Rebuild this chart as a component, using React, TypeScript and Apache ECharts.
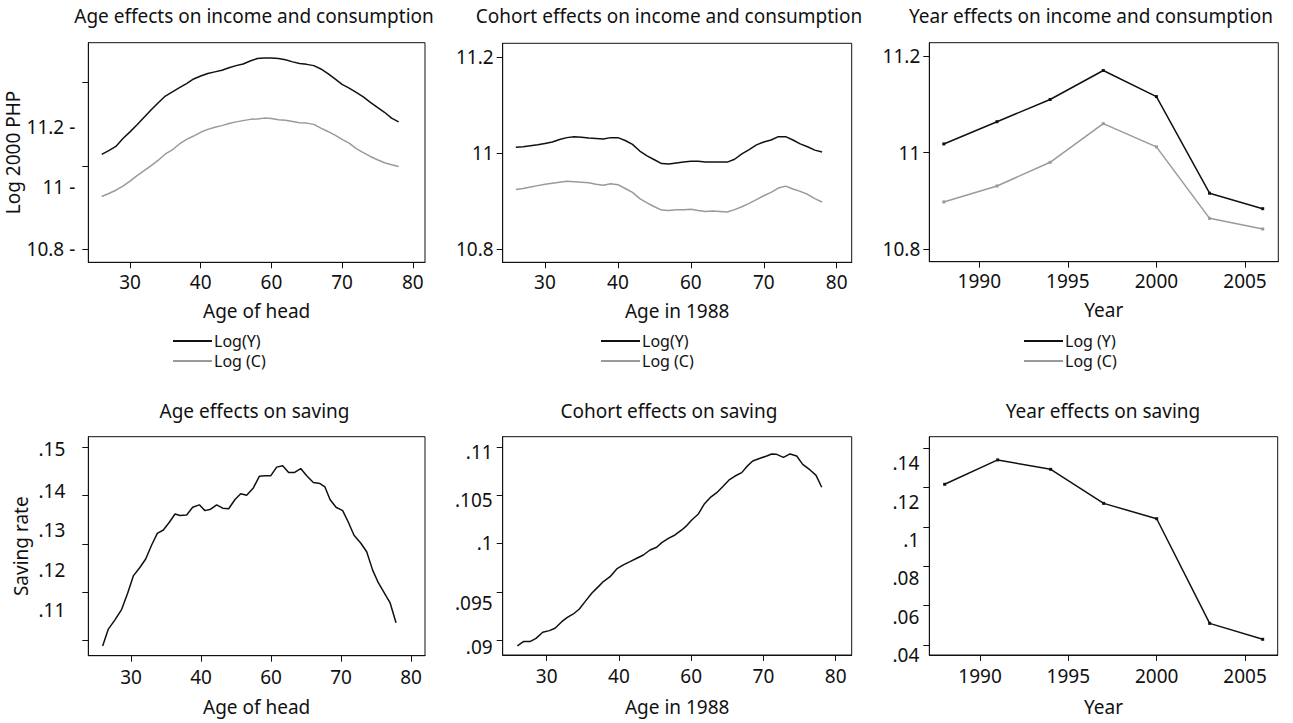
import React, { useEffect, useRef } from 'react';
import * as echarts from 'echarts';

const FONT = '"Noto Sans", sans-serif';
const INK = '#111';
const GREY = '#9a9a9a';

// ---------- data ----------
const ageAxisTicks = [30, 40, 50, 60, 70];
const ageAxisLabels = ['30', '40', '60', '70', '80'];
const yearAxisTicks = [1990, 1995, 2000, 2005];
const yearAxisLabels = ['1990', '1995', '2000', '2005'];

const ageIncomeX = [26, 27, 28, 29, 30, 31, 32, 33, 34, 35, 36, 37, 38, 39, 40, 41, 42, 43, 44, 45, 46, 47, 48, 49, 50, 51, 52, 53, 54, 55, 56, 57, 58, 59, 60, 61, 62, 63, 64, 65, 66, 67, 68];
const ageLogY = [11.228, 11.237, 11.247, 11.266, 11.282, 11.299, 11.317, 11.335, 11.352, 11.368, 11.378, 11.388, 11.398, 11.409, 11.416, 11.422, 11.426, 11.43, 11.436, 11.441, 11.445, 11.452, 11.458, 11.459, 11.459, 11.458, 11.455, 11.45, 11.446, 11.444, 11.441, 11.433, 11.422, 11.409, 11.396, 11.387, 11.377, 11.366, 11.353, 11.341, 11.329, 11.315, 11.306];
const ageLogC = [11.127, 11.134, 11.142, 11.152, 11.164, 11.177, 11.189, 11.201, 11.214, 11.229, 11.239, 11.253, 11.264, 11.272, 11.281, 11.288, 11.293, 11.297, 11.302, 11.306, 11.309, 11.312, 11.313, 11.315, 11.314, 11.311, 11.31, 11.307, 11.304, 11.303, 11.3, 11.291, 11.283, 11.274, 11.264, 11.255, 11.242, 11.232, 11.223, 11.215, 11.208, 11.203, 11.199];
const ageIncomeYTicks = [11.0, 11.2, 11.4];
const ageIncomeYLabelPos = [11.0, 11.15, 11.293];
const ageIncomeYLabels = ['10.8 -', '11 -', '11.2 -'];

const cohortX = [26, 27, 28, 29, 30, 31, 32, 33, 34, 35, 36, 37, 38, 39, 40, 41, 42, 43, 44, 45, 46, 47, 48, 49, 50, 51, 52, 53, 54, 55, 56, 57, 58, 59, 60, 61, 62, 63, 64, 65, 66, 67, 68];
const cohortLogY = [11.012, 11.013, 11.015, 11.017, 11.02, 11.023, 11.028, 11.032, 11.034, 11.033, 11.031, 11.03, 11.029, 11.032, 11.032, 11.026, 11.018, 11.004, 10.994, 10.986, 10.978, 10.977, 10.979, 10.981, 10.983, 10.983, 10.981, 10.981, 10.981, 10.981, 10.987, 10.998, 11.007, 11.017, 11.023, 11.027, 11.034, 11.034, 11.027, 11.019, 11.013, 11.006, 11.002];
const cohortLogC = [10.924, 10.926, 10.929, 10.932, 10.935, 10.937, 10.939, 10.941, 10.94, 10.939, 10.938, 10.935, 10.933, 10.936, 10.934, 10.926, 10.918, 10.905, 10.896, 10.888, 10.881, 10.88, 10.882, 10.882, 10.883, 10.88, 10.878, 10.879, 10.878, 10.877, 10.882, 10.888, 10.895, 10.903, 10.911, 10.918, 10.927, 10.931, 10.925, 10.92, 10.914, 10.905, 10.898];
const logYTicks = [10.8, 11.0, 11.2];
const logYLabels = ['10.8', '11', '11.2'];

const years = [1988, 1991, 1994, 1997, 2000, 2003, 2006];
const yearLogY = [11.018, 11.064, 11.11, 11.17, 11.116, 10.916, 10.884];
const yearLogC = [10.898, 10.931, 10.98, 11.06, 11.012, 10.864, 10.842];

const ageSavingX = [25.95, 26.76, 27.71, 28.67, 29.52, 30.33, 31.29, 32.1, 32.95, 33.76, 34.62, 35.48, 36.29, 37.0, 37.95, 38.81, 39.76, 40.57, 41.38, 42.24, 43.1, 43.95, 44.86, 45.67, 46.52, 47.48, 48.33, 49.14, 49.95, 50.81, 51.67, 52.52, 53.38, 54.24, 55.1, 56.05, 57.0, 57.71, 58.43, 59.29, 60.24, 61.05, 61.86, 62.81, 63.67, 64.52, 65.33, 66.14, 67.0, 67.86];
const ageSavingRate = [0.1089, 0.1124, 0.1143, 0.1165, 0.1198, 0.1234, 0.1252, 0.1269, 0.1298, 0.1322, 0.1329, 0.1345, 0.1362, 0.1359, 0.136, 0.1376, 0.1381, 0.1369, 0.1372, 0.1381, 0.1374, 0.1373, 0.1392, 0.1404, 0.1401, 0.1416, 0.144, 0.1441, 0.1441, 0.1459, 0.1462, 0.1448, 0.1448, 0.1456, 0.1441, 0.1427, 0.1425, 0.1418, 0.1392, 0.1376, 0.1369, 0.1345, 0.1318, 0.1302, 0.1284, 0.1246, 0.122, 0.12, 0.1179, 0.1137];
const ageSavingTicks = [0.11, 0.12, 0.13, 0.14, 0.15];
const ageSavingLabelPos = [0.11635, 0.12462, 0.1329, 0.14096, 0.14959];
const ageSavingLabels = ['.11', '.12', '.13', '.14', '.15'];

const cohortSavingX = [25.94, 26.77, 27.69, 28.52, 29.45, 30.37, 31.15, 32.08, 32.86, 33.69, 34.52, 35.31, 36.23, 37.15, 37.84, 38.77, 39.69, 40.61, 41.53, 42.46, 43.38, 44.3, 45.22, 45.92, 46.84, 47.76, 48.69, 49.38, 50.07, 50.99, 51.78, 52.61, 53.53, 54.45, 55.24, 56.07, 56.99, 57.68, 58.51, 59.53, 60.45, 61.14, 61.83, 62.76, 63.68, 64.6, 65.43, 66.45, 67.28, 68.06];
const cohortSavingRate = [0.08938, 0.08983, 0.08983, 0.09017, 0.0908, 0.09097, 0.09121, 0.0919, 0.09235, 0.0927, 0.09322, 0.09398, 0.09484, 0.09554, 0.09606, 0.09657, 0.09737, 0.09779, 0.09813, 0.09848, 0.09882, 0.09934, 0.09962, 0.1001, 0.10055, 0.1009, 0.10142, 0.10187, 0.10246, 0.10308, 0.10408, 0.10477, 0.10529, 0.10599, 0.10661, 0.10702, 0.10737, 0.10799, 0.10858, 0.10886, 0.1091, 0.10931, 0.10927, 0.10896, 0.10931, 0.1091, 0.10823, 0.10765, 0.10709, 0.10585];
const cohortSavingTicks = [0.09, 0.095, 0.1, 0.105, 0.11];
const cohortSavingLabelPos = [0.0893, 0.09381, 0.10004, 0.10453, 0.10954];
const cohortSavingLabels = ['.09', '.095', '.1', '.105', '.11'];

const yearSavingRate = [0.1217, 0.1341, 0.1293, 0.112, 0.1042, 0.051, 0.0429];
const yearSavingTicks = [0.04, 0.06, 0.08, 0.1, 0.12, 0.14];
const yearSavingLabelPos = [0.03492, 0.05408, 0.07391, 0.09338, 0.11285, 0.13237];
const yearSavingLabels = ['.04', '.06', '.08', '.1', '.12', '.14'];

// ---------- helpers ----------
function pick(values: number[], texts: string[]) {
  return (v: number) => {
    let best = 0;
    let d = Infinity;
    values.forEach((x, i) => {
      const dd = Math.abs(x - v);
      if (dd < d) { d = dd; best = i; }
    });
    return texts[best];
  };
}

const textBase = { color: INK, fontFamily: FONT };

function xAxis(gridIndex: number, min: number, max: number, ticks: number[], labels: string[], name: string, margin: number, nameGap: number) {
  return {
    type: 'value', gridIndex, min, max,
    axisLine: { show: true, onZero: false, lineStyle: { color: INK, width: 1 } },
    axisTick: { show: true, length: 6, customValues: ticks, lineStyle: { color: INK, width: 1 } },
    axisLabel: { show: true, customValues: ticks, formatter: pick(ticks, labels), margin, fontSize: 19, ...textBase },
    splitLine: { show: false },
    name, nameLocation: 'middle', nameGap,
    nameTextStyle: { fontSize: 19, ...textBase },
  };
}

function yAxis(gridIndex: number, min: number, max: number, ticks: number[], labelPos: number[], labels: string[], margin: number, name?: string) {
  return {
    type: 'value', gridIndex, min, max,
    axisLine: { show: true, onZero: false, lineStyle: { color: INK, width: 1 } },
    axisTick: { show: true, length: 6, customValues: ticks, lineStyle: { color: INK, width: 1 } },
    axisLabel: { show: true, customValues: labelPos, formatter: pick(labelPos, labels), margin, fontSize: 19, ...textBase },
    splitLine: { show: false },
    name: name || '', nameLocation: 'middle', nameGap: 58,
    nameTextStyle: { fontSize: 19, ...textBase },
  };
}

function line(name: string, grid: number, xs: number[], ys: number[], color: string, marker: boolean) {
  return {
    type: 'line', name, xAxisIndex: grid, yAxisIndex: grid,
    data: xs.map((x, i) => [x, ys[i]]),
    showSymbol: marker, symbol: marker ? 'rect' : 'none', symbolSize: 3,
    lineStyle: { color, width: 1.5 }, itemStyle: { color },
    emphasis: { disabled: true }, silent: true,
  };
}

function legend(left: number, names: string[]) {
  return {
    orient: 'vertical', left, top: 333, padding: 0,
    itemWidth: 39, itemHeight: 2, itemGap: 4, icon: 'rect',
    selectedMode: false, data: names,
    textStyle: { fontSize: 16, ...textBase, padding: [0, 0, 0, -3] },
  };
}

const grids = [
  { left: 88.3, top: 42.7, width: 336.7, height: 219.6 },
  { left: 502.7, top: 43.3, width: 349, height: 219 },
  { left: 929.3, top: 42.7, width: 349, height: 219 },
  { left: 88.3, top: 436.7, width: 336.7, height: 219 },
  { left: 502.7, top: 436.7, width: 349, height: 218.3 },
  { left: 929.3, top: 436.7, width: 348.4, height: 218.3 },
];

const titles = [
  { text: 'Age effects on income and consumption', left: 254, top: 6 },
  { text: 'Cohort effects on income and consumption', left: 669, top: 6 },
  { text: 'Year effects on income and consumption', left: 1091, top: 6 },
  { text: 'Age effects on saving', left: 254.5, top: 401 },
  { text: 'Cohort effects on saving', left: 669, top: 401 },
  { text: 'Year effects on saving', left: 1103, top: 401 },
];

export default function App() {
  const ref = useRef<HTMLDivElement>(null);
  useEffect(() => {
    if (!ref.current) return;
    const chart = echarts.init(ref.current, undefined, { renderer: 'svg' });
    chart.setOption({
      animation: false,
      backgroundColor: '#fff',
      title: titles.map((t) => ({
        ...t, textAlign: 'center', padding: 0,
        textStyle: { fontSize: 19, fontWeight: 'normal', ...textBase },
      })),
      grid: grids.map((g) => ({ ...g, show: true, borderColor: INK, borderWidth: 1, backgroundColor: 'transparent', containLabel: false })),
      legend: [
        legend(173, ['Log(Y)', 'Log (C)']),
        legend(601, ['Log(Y)', 'Log (C)']),
        legend(1024, ['Log (Y)', 'Log (C)']),
      ],
      xAxis: [
        xAxis(0, 24.1, 71.73, ageAxisTicks, ageAxisLabels, 'Age of head', 10, 39),
        xAxis(1, 24.2, 72.06, ageAxisTicks, ageAxisLabels, 'Age in 1988', 10, 39),
        xAxis(2, 1987.18, 2006.88, yearAxisTicks, yearAxisLabels, 'Year', 10, 39),
        xAxis(3, 23.9, 72.0, ageAxisTicks, ageAxisLabels, 'Age of head', 11.5, 42),
        xAxis(4, 23.91, 72.21, ageAxisTicks, ageAxisLabels, 'Age in 1988', 11.5, 42),
        xAxis(5, 1987.13, 2006.85, yearAxisTicks, yearAxisLabels, 'Year', 11.5, 42),
      ],
      yAxis: [
        yAxis(0, 10.969, 11.496, ageIncomeYTicks, ageIncomeYLabelPos, ageIncomeYLabels, 13, 'Log 2000 PHP'),
        yAxis(1, 10.7723, 11.2285, logYTicks, logYTicks, logYLabels, 9),
        yAxis(2, 10.7743, 11.2275, logYTicks, logYTicks, logYLabels, 9),
        yAxis(3, 0.1069, 0.15219, ageSavingTicks, ageSavingLabelPos, ageSavingLabels, 23, 'Saving rate'),
        yAxis(4, 0.08844, 0.1111, cohortSavingTicks, cohortSavingLabelPos, cohortSavingLabels, 10),
        yAxis(5, 0.03492, 0.1459, yearSavingTicks, yearSavingLabelPos, yearSavingLabels, 10),
      ],
      series: [
        line('Log(Y)', 0, ageIncomeX, ageLogY, INK, false),
        line('Log (C)', 0, ageIncomeX, ageLogC, GREY, false),
        line('Log(Y)', 1, cohortX, cohortLogY, INK, false),
        line('Log (C)', 1, cohortX, cohortLogC, GREY, false),
        line('Log (Y)', 2, years, yearLogY, INK, true),
        line('Log (C)', 2, years, yearLogC, GREY, true),
        line('Saving rate (age)', 3, ageSavingX, ageSavingRate, INK, false),
        line('Saving rate (cohort)', 4, cohortSavingX, cohortSavingRate, INK, false),
        line('Saving rate (year)', 5, years, yearSavingRate, INK, true),
      ],
    });
    return () => chart.dispose();
  }, []);
  return (
    <div
      ref={ref}
      style={{ position: 'absolute', left: 0, top: 0, width: 1293, height: 723, background: '#fff' }}
    />
  );
}
